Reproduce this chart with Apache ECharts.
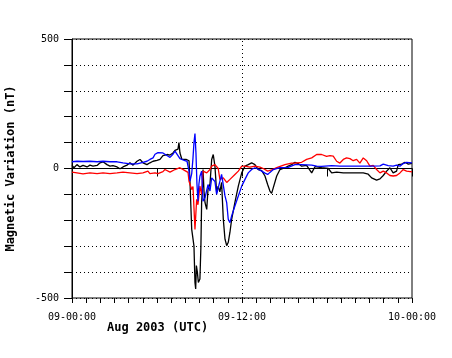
<!DOCTYPE html>
<html><head><meta charset="utf-8">
<script src="https://cdn.jsdelivr.net/npm/echarts@6/dist/echarts.min.js"></script>
<style>html,body{margin:0;padding:0;background:#fff}#c{width:452px;height:358px}</style>
</head><body><div id="c"></div>
<script>
var xTickLabels = {0:'09-00:00', 12:'09-12:00', 24:'10-00:00'};
var yTickLabels = {'-500':'-500', '0':'0', '500':'500'};
var blackData = [[0,12],[0.14,3],[0.35,15],[0.56,6],[0.78,12],[1.06,6],[1.27,13],[1.48,9],[1.77,12],[1.98,22],[2.19,26],[2.47,15],[2.68,9],[2.89,11],[3.18,6],[3.39,-1],[3.6,6],[3.88,13],[4.09,22],[4.31,13],[4.59,28],[4.8,35],[5.01,22],[5.29,15],[5.5,22],[5.72,28],[6.0,31],[6.21,35],[6.42,50],[6.7,54],[6.92,52],[7.13,60],[7.27,70],[7.48,75],[7.55,100],[7.62,60],[7.76,35],[8.05,35],[8.26,30],[8.33,-54],[8.45,-235],[8.54,-240],[8.61,-300],[8.68,-440],[8.73,-465],[8.78,-375],[8.85,-400],[8.92,-440],[9.03,-427],[9.1,-300],[9.15,-131],[9.22,-60],[9.25,-4],[9.32,-90],[9.39,-132],[9.51,-158],[9.6,-81],[9.74,-60],[9.86,35],[9.97,54],[10.09,9],[10.21,-92],[10.32,-68],[10.44,-90],[10.56,-54],[10.68,-196],[10.8,-273],[10.92,-298],[11.03,-285],[11.15,-246],[11.27,-196],[11.5,-131],[11.74,-68],[11.98,-17],[12.21,9],[12.44,15],[12.68,22],[12.91,15],[13.15,-4],[13.39,-8],[13.62,-29],[13.81,-62],[13.97,-87],[14.09,-96],[14.21,-74],[14.45,-29],[14.68,-4],[15.03,3],[15.26,9],[15.5,15],[15.74,24],[15.97,19],[16.21,9],[16.56,12],[16.92,-17],[17.15,7],[17.62,3],[18.09,0],[18.33,-17],[18.68,-14],[19.15,-17],[19.62,-17],[20.09,-17],[20.56,-17],[20.91,-22],[21.15,-36],[21.5,-45],[21.74,-40],[21.97,-27],[22.21,-10],[22.44,3],[22.67,-17],[22.91,-10],[23.03,15],[23.27,17],[23.5,24],[23.74,17],[24,20]];
var blueData = [[0,26],[0.35,28],[0.78,27],[1.27,28],[1.77,26],[2.19,28],[2.68,26],[3.18,26],[3.6,22],[4.09,18],[4.59,18],[5.01,24],[5.29,28],[5.5,35],[5.72,41],[5.86,55],[6.07,61],[6.42,60],[6.7,50],[6.92,43],[7.13,55],[7.27,67],[7.48,50],[7.62,38],[7.97,30],[8.12,28],[8.26,-10],[8.33,-49],[8.45,-20],[8.54,40],[8.61,100],[8.68,135],[8.75,60],[8.82,-60],[8.89,-126],[8.96,-60],[9.03,-30],[9.15,-10],[9.25,-126],[9.39,-113],[9.51,-106],[9.6,-62],[9.74,-87],[9.86,-36],[10.09,-50],[10.21,-100],[10.44,-49],[10.56,-23],[10.68,-23],[10.8,-106],[10.92,-132],[11.03,-196],[11.15,-209],[11.27,-183],[11.5,-145],[11.74,-106],[11.98,-68],[12.21,-42],[12.44,-17],[12.68,-4],[12.91,3],[13.15,-3],[13.39,-10],[13.62,-18],[13.81,-23],[13.97,-15],[14.21,-4],[14.68,3],[15.26,4],[15.74,15],[16.21,15],[16.92,13],[17.27,9],[17.62,8],[18.33,11],[18.91,9],[19.62,9],[20.32,9],[21.03,9],[21.74,10],[21.97,17],[22.32,11],[22.67,9],[22.91,13],[23.15,9],[23.38,19],[23.62,24],[24,22]];
var redData = [[0,-14],[0.35,-17],[0.78,-21],[1.27,-17],[1.77,-20],[2.19,-17],[2.68,-20],[3.18,-17],[3.6,-14],[4.09,-17],[4.59,-20],[5.01,-17],[5.36,-10],[5.5,-20],[5.86,-17],[6.07,-20],[6.42,-12],[6.56,-4],[6.92,-14],[7.27,-4],[7.62,3],[7.97,-8],[8.19,-15],[8.26,-49],[8.45,-81],[8.54,-70],[8.68,-235],[8.8,-119],[8.89,-140],[9.03,-68],[9.15,-100],[9.25,-10],[9.51,-17],[9.74,-4],[9.86,9],[10.09,15],[10.32,0],[10.44,-42],[10.68,-36],[10.92,-54],[11.15,-42],[11.27,-36],[11.5,-23],[11.74,-10],[11.98,9],[12.21,9],[12.56,5],[12.91,9],[13.27,5],[13.5,0],[13.81,-10],[14.09,-5],[14.45,3],[15.03,15],[15.5,21],[15.74,21],[16.21,24],[16.56,35],[16.92,41],[17.27,54],[17.62,54],[17.97,47],[18.21,50],[18.44,48],[18.68,28],[18.91,21],[19.15,35],[19.38,41],[19.62,38],[19.85,30],[20.09,35],[20.32,21],[20.56,41],[20.8,30],[21.03,9],[21.26,12],[21.5,-4],[21.74,-17],[21.97,-10],[22.21,-17],[22.44,-27],[22.67,-29],[22.91,-27],[23.15,-17],[23.38,-4],[23.62,-10],[24,-13]];

var mono = 'DejaVu Sans Mono';
var chart = echarts.init(document.getElementById('c'), null, {renderer:'canvas'});
function line(name, data, color, extra) {
  var s = {name:name, type:'line', data:data, showSymbol:false, symbol:'none',
    lineStyle:{color:color, width:1.3}, itemStyle:{color:color}, animation:false, z:3};
  if (extra) for (var k in extra) s[k] = extra[k];
  return s;
}
chart.setOption({
  backgroundColor:'#fff',
  animation:false,
  title:{text:'Aug 2003 (UTC)', left:102, top:317,
    textStyle:{fontFamily:mono, fontSize:12, fontWeight:'bold', color:'#000'}},
  grid:{left:72, right:40, top:39, bottom:60, show:true, borderColor:'#000', borderWidth:1,
    backgroundColor:'transparent', outerBoundsMode:'none', containLabel:false},
  xAxis:[{type:'value', min:0, max:24, interval:6,
    axisLine:{lineStyle:{color:'#000', width:1}},
    axisTick:{show:true, length:8, lineStyle:{color:'#000'}},
    splitLine:{show:false},
    axisLabel:{margin:14, fontFamily:mono, fontSize:10, color:'#000',
      formatter:function(v){ return xTickLabels[v] !== undefined ? xTickLabels[v] : ''; }}
  },{type:'value', min:0, max:24, interval:1, position:'bottom',
    axisLine:{show:false},
    axisTick:{show:true, length:5, lineStyle:{color:'#000'}},
    splitLine:{show:false}, axisLabel:{show:false}
  }],
  yAxis:{type:'value', min:-500, max:500, interval:100,
    name:'Magnetic Variation (nT)', nameLocation:'middle', nameGap:55,
    nameTextStyle:{fontFamily:mono, fontSize:12, fontWeight:'bold', color:'#000'},
    axisLine:{show:true, lineStyle:{color:'#000', width:1}},
    axisTick:{show:true, length:8, lineStyle:{color:'#000'}},
    splitLine:{show:true, lineStyle:{color:'#000', width:1, type:[1,3]}},
    axisLabel:{margin:13, fontFamily:mono, fontSize:10, color:'#000',
      formatter:function(v){ var k = String(v); return yTickLabels[k] !== undefined ? yTickLabels[k] : ''; }}
  },
  series:[
    line('black', blackData, '#000', {markLine:{silent:true, symbol:'none', label:{show:false},
      lineStyle:{color:'#000', width:1, type:[1,3]}, data:[{xAxis:12}], animation:false}}),
    line('red', redData, '#ff0000'),
    line('blue', blueData, '#0000ff')
  ]
});
</script></body></html>
